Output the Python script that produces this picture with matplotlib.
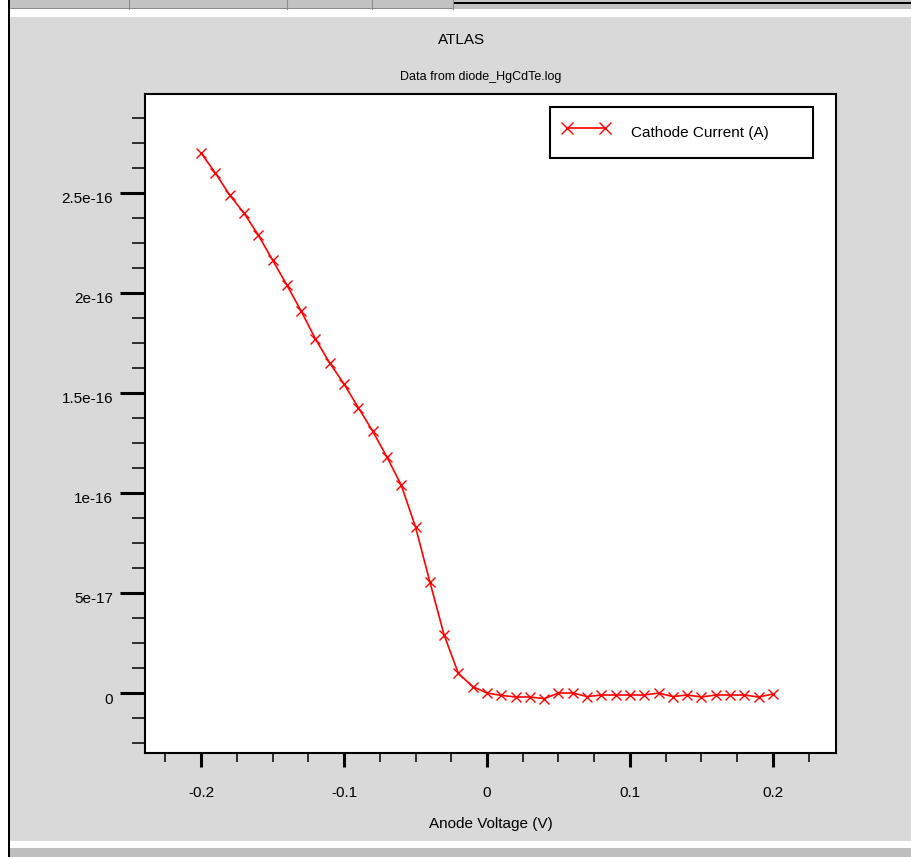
import matplotlib
matplotlib.use("Agg")
import matplotlib.pyplot as plt
from matplotlib.patches import Rectangle
from matplotlib.lines import Line2D
from matplotlib.ticker import FixedLocator, FixedFormatter, MultipleLocator
from matplotlib.transforms import ScaledTranslation

plt.rcParams['font.family'] = ['Liberation Sans', 'DejaVu Sans']

# ---- data ----
voltage = [-0.20, -0.19, -0.18, -0.17, -0.16, -0.15, -0.14, -0.13, -0.12, -0.11,
           -0.10, -0.09, -0.08, -0.07, -0.06, -0.05, -0.04, -0.03, -0.02, -0.01,
           0.00, 0.01, 0.02, 0.03, 0.04, 0.05, 0.06, 0.07, 0.08, 0.09,
           0.10, 0.11, 0.12, 0.13, 0.14, 0.15, 0.16, 0.17, 0.18, 0.19, 0.20]
cathode_current = [2.70e-16, 2.60e-16, 2.49e-16, 2.40e-16, 2.29e-16, 2.165e-16, 2.04e-16,
                   1.91e-16, 1.77e-16, 1.65e-16, 1.545e-16, 1.427e-16, 1.31e-16, 1.18e-16,
                   1.04e-16, 8.3e-17, 5.57e-17, 2.9e-17, 9.8e-18, 3.2e-18,
                   0.0, -1.2e-18, -2.0e-18, -2.0e-18, -2.8e-18, 0.0, 0.0, -1.8e-18,
                   -1.0e-18, -1.0e-18, -1.0e-18, -1.0e-18, 0.0, -1.8e-18, -1.0e-18,
                   -2.0e-18, -1.0e-18, -1.0e-18, -1.0e-18, -2.0e-18, -0.5e-18]
series_label = "Cathode Current (A)"
x_ticks = [-0.2, -0.1, 0.0, 0.1, 0.2]
x_tick_labels = ["-0.2", "-0.1", "0", "0.1", "0.2"]
y_ticks = [0.0, 5e-17, 1e-16, 1.5e-16, 2e-16, 2.5e-16]
y_tick_labels = ["0", "5e-17", "1e-16", "1.5e-16", "2e-16", "2.5e-16"]
title_text = "ATLAS"
subtitle_text = "Data from diode_HgCdTe.log"
x_label = "Anode Voltage (V)"

W, H = 912, 857
BG = '#d9d9d9'
fig = plt.figure(figsize=(W / 100, H / 100), dpi=100, facecolor=BG)


def px_rect(x, y, w, h, color, z=-5):
    fig.add_artist(Rectangle((x / W, 1 - (y + h) / H), w / W, h / H,
                             transform=fig.transFigure, facecolor=color,
                             edgecolor='none', zorder=z))


def px_vline(x, y0, y1, color, lw=1.0, z=-4):
    fig.add_artist(Line2D([x / W, x / W], [1 - y0 / H, 1 - y1 / H],
                          transform=fig.transFigure, color=color, lw=lw, zorder=z))


# window decorations
px_rect(0, 0, 8, H, 'white')
px_rect(8, 0, 2, H, 'black')
px_rect(10, 0, W - 10, 9, '#c2c2c2')
px_rect(453, 2, W - 453, 1.5, 'black')
px_rect(10, 8, 443, 1, '#8c8c8c')
for xd in [129, 287, 372, 453]:
    px_vline(xd, 0, 9, '#8c8c8c', lw=0.8)
px_rect(10, 9, W - 10, 8, 'white')
px_rect(10, 841, W - 10, 7, 'white')
px_rect(10, 848, W - 10, 9, '#bebebe')

# axes
L, R, T, B = 145, 836, 94, 753
ax = fig.add_axes([L / W, 1 - B / H, (R - L) / W, (B - T) / H])
ax.set_facecolor('white')

ax.plot(voltage, cathode_current, color='#ff0000', lw=1.2, marker='x',
        markersize=7, markeredgewidth=1.0, label=series_label)

ax.set_xlim(-0.2392, 0.2441)
ax.set_ylim(-3e-17, 2.995e-16)

ax.xaxis.set_major_locator(FixedLocator(x_ticks))
ax.xaxis.set_major_formatter(FixedFormatter(x_tick_labels))
ax.xaxis.set_minor_locator(MultipleLocator(0.025))
ax.yaxis.set_major_locator(FixedLocator(y_ticks))
ax.yaxis.set_major_formatter(FixedFormatter(y_tick_labels))
ax.yaxis.set_minor_locator(MultipleLocator(1.25e-17))

ax.tick_params(axis='x', which='major', direction='out', length=10, width=2.2,
               pad=14, labelsize=11, colors='black')
ax.tick_params(axis='x', which='minor', direction='out', length=6.5, width=1.1)
ax.tick_params(axis='y', which='major', direction='out', length=18, width=2.2,
               pad=5, labelsize=11, colors='black')
ax.tick_params(axis='y', which='minor', direction='out', length=9.4, width=1.1)

for s in ax.spines.values():
    s.set_linewidth(1.5)
    s.set_color('black')

# shift y tick labels slightly down like the reference
off = ScaledTranslation(0, -5 / 100, fig.dpi_scale_trans)
for lab in ax.get_yticklabels():
    lab.set_transform(lab.get_transform() + off)

ax.set_xlabel(x_label, fontsize=11, labelpad=12)

fig.text(462 / W, 1 - 40 / H, title_text, ha='center', va='center', fontsize=11)
fig.text(481 / W, 1 - 77 / H, subtitle_text, ha='center', va='center', fontsize=9)

leg = ax.legend(loc='upper left',
                bbox_to_anchor=(550 / W, 1 - 107 / H - 0.01, 263 / W, 0.01),
                bbox_transform=fig.transFigure, mode='expand', borderaxespad=0,
                fontsize=11, handlelength=3.1, handleheight=2.4, handletextpad=1.45,
                borderpad=0.78, numpoints=2, fancybox=False, shadow=False,
                framealpha=1, markerscale=1.3)
leg.get_frame().set_edgecolor('black')
leg.get_frame().set_linewidth(1.5)

fig.savefig('out.png', dpi=100, facecolor=BG)
